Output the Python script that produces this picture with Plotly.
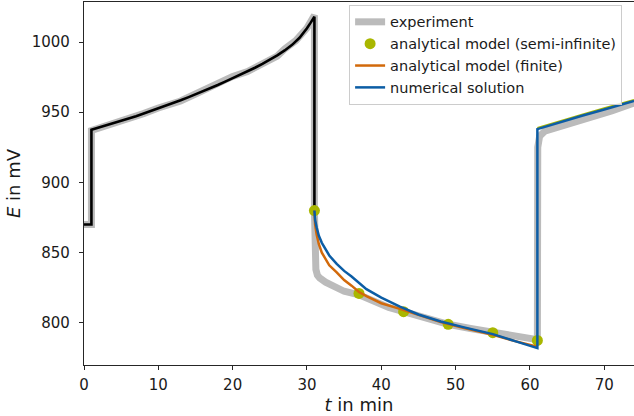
import plotly.graph_objects as go

# ---- data ----
exp_t = [0, 1, 1.0, 3, 5, 6.5, 8, 10, 12, 13, 15, 17, 18.5, 20, 22, 24, 26, 27, 28.5, 30, 31,
         31.0, 31.05, 31.2, 31.4, 31.7, 32.5, 34, 35, 37, 39, 41, 43, 46, 49, 52, 55, 58, 60.9,
         61.0, 61.05, 61.3, 62, 65, 68, 71, 74]
exp_E = [870, 870, 937, 940.5, 944, 945.5, 949, 953, 956, 958, 963, 968, 972, 975.5, 979, 984, 990, 995, 1001, 1010, 1019,
         880, 850, 838, 834, 832, 829, 825, 822.5, 820, 815, 811, 808, 803, 799, 796, 793, 790.5, 788,
         788, 925, 933, 936.5, 941, 946, 951, 956.5]

model1_t = [0, 1, 1.0, 2, 3, 4, 5, 6, 7, 8, 9, 10, 11, 12, 13, 14, 15, 16, 17, 18, 19, 20,
            21, 22, 23, 24, 25, 26, 27, 28, 29, 29.5, 30, 30.5, 31, 31.0]
model1_E = [870, 870, 937.5, 939.0, 940.6, 942.2, 943.8, 945.5, 947.2, 949.0, 950.8, 952.7, 954.6,
            956.5, 958.5, 960.6, 962.7, 964.9, 967.1, 969.4, 971.8, 974.2,
            976.6, 979.1, 981.7, 984.4, 987.3, 990.5, 994.0, 998.0, 1003.0, 1006.2, 1009.8, 1013.8, 1018, 880]

semi_t = [31, 37, 43, 49, 55, 61]
semi_E = [880, 821, 808, 799, 793, 787.5]
semi3_t = [61, 64, 67, 70, 74]
semi3_E = [938.8, 943.8, 948.3, 952.8, 958.8]

finite_t = [31, 31.1, 31.3, 31.6, 32, 32.5, 33, 34, 35, 36, 37, 38, 40, 42.5, 45, 48, 51, 55, 58, 61]
finite_E = [880, 870, 863, 856, 850, 845, 841, 836, 830.5, 826.5, 822, 819, 814, 810, 805.5, 800.5, 796.5, 791.5, 787, 783]

num_t = [31, 31.1, 31.3, 31.6, 32, 32.5, 33, 34, 35, 36, 38, 40, 42.5, 45, 48, 51, 55, 58, 61,
         61.0, 64, 67, 70, 74]
num_E = [880, 873, 868, 862, 857, 852, 848, 842, 837, 833, 824, 818, 811.5, 806, 801, 797, 792, 787, 782,
         938, 943, 947.5, 952, 958]

x_ticks = [0, 10, 20, 30, 40, 50, 60, 70]
y_ticks = [800, 850, 900, 950, 1000]

GRAY = "#bbbbbb"
GREEN = "#a9b700"
ORANGE = "#d2690a"
BLUE = "#0c5da5"
FONT = "DejaVu Sans"
TXT = "#1a1a1a"

fig = go.Figure()
fig.add_trace(go.Scatter(x=exp_t, y=exp_E, mode="lines", name="experiment",
                         line=dict(color=GRAY, width=7)))
fig.add_trace(go.Scatter(x=model1_t, y=model1_E, mode="lines", showlegend=False,
                         line=dict(color="black", width=2.6)))
fig.add_trace(go.Scatter(x=semi3_t, y=semi3_E, mode="lines", showlegend=False,
                         line=dict(color=GREEN, width=2)))
fig.add_trace(go.Scatter(x=semi_t, y=semi_E, mode="markers", name="analytical model (semi-infinite)",
                         marker=dict(color=GREEN, size=11)))
fig.add_trace(go.Scatter(x=finite_t, y=finite_E, mode="lines", name="analytical model (finite)",
                         line=dict(color=ORANGE, width=2.5)))
fig.add_trace(go.Scatter(x=num_t, y=num_E, mode="lines", name="numerical solution",
                         line=dict(color=BLUE, width=2.5)))

axis_common = dict(showline=True, linecolor="#262626", linewidth=1.2, mirror=True,
                   ticks="outside", ticklen=4, tickwidth=1, tickcolor="#262626",
                   showgrid=False, zeroline=False,
                   tickfont=dict(family=FONT, size=15, color=TXT))

fig.update_layout(
    width=634, height=416,
    margin=dict(l=84, r=0, t=2, b=51),
    paper_bgcolor="white", plot_bgcolor="white",
    font=dict(family=FONT, size=15, color=TXT),
    xaxis=dict(range=[0, 74], tickvals=x_ticks, ticktext=[str(v) for v in x_ticks],
               ticklabelstandoff=2,
               title=dict(text="<i>t</i> in min", font=dict(family=FONT, size=18, color=TXT), standoff=4),
               **axis_common),
    yaxis=dict(range=[770, 1028.5], tickvals=y_ticks, ticktext=[str(v) for v in y_ticks],
               ticklabelstandoff=6,
               title=dict(text="<i>E</i> in mV", font=dict(family=FONT, size=18, color=TXT), standoff=6),
               **axis_common),
    legend=dict(x=0.482, y=0.992, xanchor="left", yanchor="top",
                bgcolor="rgba(255,255,255,0.8)", bordercolor="#cccccc", borderwidth=1,
                font=dict(family=FONT, size=14.5, color=TXT),
                tracegroupgap=0),
)

fig.write_html("out.html")
